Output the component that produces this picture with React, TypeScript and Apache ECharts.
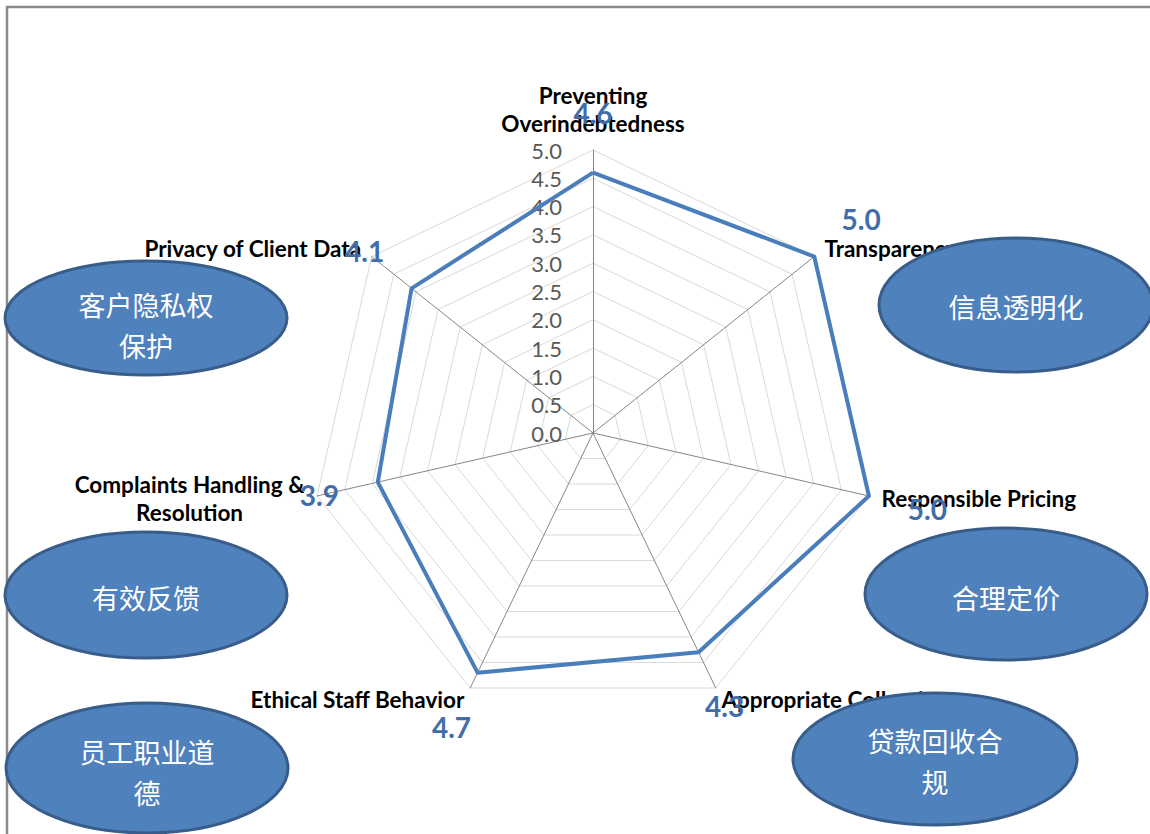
import React, { useEffect, useRef } from "react";
import * as echarts from "echarts";

// Categories in reading (clockwise) order, starting at the top
const categories = [
  "Preventing\nOverindebtedness",
  "Transparency",
  "Responsible Pricing",
  "Appropriate Collection",
  "Ethical Staff Behavior",
  "Complaints Handling &\nResolution",
  "Privacy of Client Data",
];
const scores = [4.6, 5.0, 5.0, 4.3, 4.7, 3.9, 4.1];
const axisMin = 0;
const axisMax = 5;
const axisStep = 0.5;

// Chinese callouts
const calloutTexts = [
  "客户隐私权\n保护",
  "信息透明化",
  "有效反馈",
  "合理定价",
  "员工职业道\n德",
  "贷款回收合\n规",
];

const CX = 593;
const CY = 433;
const R = 283;

export default function App() {
  const ref = useRef<HTMLDivElement>(null);
  useEffect(() => {
    if (!ref.current) return;
    const chart = echarts.init(ref.current, undefined, { renderer: "svg" });

    // ECharts places indicators counter-clockwise; reorder to get clockwise layout
    const order = [0, ...Array.from({ length: categories.length - 1 }, (_, i) => categories.length - 1 - i)];
    const indicator = order.map((i, k) => {
      const ind: any = { name: categories[i], min: axisMin, max: axisMax };
      if (k === 0) {
        ind.axisLabel = {
          show: true,
          margin: 31,
          align: "right",
          verticalAlign: "middle",
          color: "#595959",
          fontSize: 22,
          fontFamily: "Lato",
          formatter: (v: number) => Number(v).toFixed(1),
        };
      }
      return ind;
    });
    const values = order.map((i) => scores[i]);

    const ellipses = [
      { cx: 146, cy: 318, rx: 141, ry: 57, ty: 325 },
      { cx: 1016, cy: 305, rx: 137, ry: 67, ty: 306 },
      { cx: 146, cy: 595, rx: 141, ry: 63, ty: 597 },
      { cx: 1006, cy: 594, rx: 141, ry: 66, ty: 597 },
      { cx: 147, cy: 768, rx: 141, ry: 65, ty: 772 },
      { cx: 935, cy: 759, rx: 142, ry: 66, ty: 761 },
    ];

    const graphic: any[] = [
      {
        type: "rect",
        shape: { x: 7, y: 7, width: 1170, height: 860 },
        style: { fill: "none", stroke: "#8a8a8a", lineWidth: 2.5 },
        silent: true,
        z: 100,
      },
    ];
    ellipses.forEach((e, i) => {
      graphic.push({
        type: "ellipse",
        shape: { cx: e.cx, cy: e.cy, rx: e.rx, ry: e.ry },
        style: { fill: "#4F81BD", stroke: "#385D8A", lineWidth: 3 },
        z: 100,
      });
      graphic.push({
        type: "text",
        x: e.cx,
        y: e.ty,
        z: 101,
        style: {
          text: calloutTexts[i],
          fill: "#ffffff",
          fontSize: 27,
          fontFamily: "Noto Sans CJK SC",
          lineHeight: 41,
          textAlign: "center",
          textVerticalAlign: "middle",
        },
      });
    });

    const nameFont = {
      color: "#000000",
      fontWeight: "bold",
      fontSize: 22.5,
      fontFamily: "Lato",
      lineHeight: 28,
    };

    chart.setOption({
      animation: false,
      backgroundColor: "#ffffff",
      radar: {
        center: [CX, CY],
        radius: R,
        startAngle: 90,
        shape: "polygon",
        splitNumber: Math.round((axisMax - axisMin) / axisStep),
        nameGap: 13,
        axisName: {
          ...nameFont,
          formatter: (name: string) =>
            name.split("\n").map((l) => `{c|${l}}`).join("\n"),
          rich: { c: { align: "center", ...nameFont } },
        },
        axisLabel: { show: false },
        axisTick: { show: false },
        axisLine: { lineStyle: { color: "#868686", width: 1 } },
        splitLine: { lineStyle: { color: "#D9D9D9", width: 1 } },
        splitArea: { show: false },
        indicator,
      },
      series: [
        {
          type: "radar",
          symbol: "circle",
          symbolSize: 2,
          itemStyle: { color: "#4A7EBB" },
          lineStyle: { color: "#4A7EBB", width: 4 },
          label: {
            show: true,
            color: "#416DAA",
            fontWeight: "bold",
            fontSize: 28,
            fontFamily: "Lato",
            formatter: (p: any) => Number(p.value).toFixed(1),
          },
          labelLayout: (params: any) => {
            const r = params.rect;
            const px = r.x + r.width / 2;
            const py = r.y + r.height / 2;
            const dx = px - CX;
            const dy = py - CY;
            const len = Math.hypot(dx, dy) || 1;
            return {
              x: px + (dx / len) * 60,
              y: py + (dy / len) * 60,
              align: "center",
              verticalAlign: "middle",
            };
          },
          data: [{ value: values, name: "Score" }],
        },
      ],
      graphic,
    });
    return () => chart.dispose();
  }, []);
  return (
    <div
      ref={ref}
      style={{ position: "absolute", left: 0, top: 0, width: 1150, height: 834 }}
    />
  );
}
